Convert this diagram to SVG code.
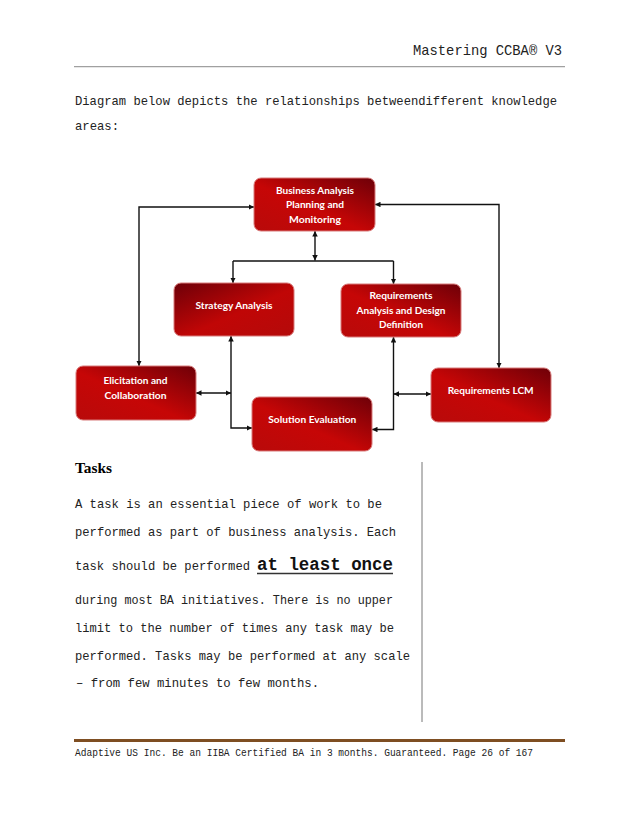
<svg xmlns="http://www.w3.org/2000/svg" width="638" height="826" viewBox="0 0 638 826">
<defs>
<linearGradient id="g1" x1="0" y1="1" x2="1" y2="0">
<stop offset="0" stop-color="#b80a0a"/>
<stop offset="0.45" stop-color="#c60606"/>
<stop offset="1" stop-color="#6e0008"/>
</linearGradient>
<linearGradient id="g2" x1="0" y1="0" x2="1" y2="1">
<stop offset="0" stop-color="#6e0008"/>
<stop offset="0.55" stop-color="#c00606"/>
<stop offset="1" stop-color="#b40a0a"/>
</linearGradient>
<marker id="ah" viewBox="0 0 6 6" markerWidth="5.5" markerHeight="5.5" refX="6" refY="3" orient="auto-start-reverse" markerUnits="userSpaceOnUse">
<path d="M0,0 L6,3 L0,6 z" fill="#111"/>
</marker>
</defs>
<style>
.doc{font-family:"Liberation Mono","Noto Sans CJK SC",monospace;fill:#222;}
.box{stroke:#d87a7a;stroke-width:1;}
.lbl{font-family:Lato,"Liberation Sans",sans-serif;font-weight:bold;font-size:10px;fill:#ffffff;text-anchor:middle;}
.con{fill:none;stroke:#111;stroke-width:1.4;}
.both{marker-start:url(#ah);marker-end:url(#ah);}
.end{marker-end:url(#ah);}
</style>
<rect width="638" height="826" fill="#ffffff"/>

<text class="doc" x="562" y="55" font-size="15" text-anchor="end" textLength="149" lengthAdjust="spacingAndGlyphs">Mastering CCBA® V3</text>
<line x1="74" y1="66.7" x2="565" y2="66.7" stroke="#a0a0a0" stroke-width="1.3"/>

<text class="doc" x="75" y="105" font-size="13.5" textLength="482" lengthAdjust="spacingAndGlyphs">Diagram below depicts the relationships betweendifferent knowledge</text>
<text class="doc" x="75" y="130" font-size="13.5" textLength="44" lengthAdjust="spacingAndGlyphs">areas:</text>

<g id="connectors">
<path class="con both" d="M254,207 H139 V366"/>
<path class="con both" d="M375,204.5 H499 V368"/>
<path class="con both" d="M315,231 V260.5"/>
<path class="con" d="M233,261 H393.5"/>
<path class="con end" d="M233,261 V283"/>
<path class="con end" d="M393.5,261 V284"/>
<path class="con both" d="M231,336 V428 H252"/>
<path class="con both" d="M196,393 H231"/>
<path class="con both" d="M393.5,337 V429.5 H372"/>
<path class="con both" d="M393.5,394 H431"/>
</g>

<g id="bapm">
<rect class="box" x="254" y="178" width="121" height="53" rx="7" fill="url(#g1)"/>
<text class="lbl" x="315" y="194" textLength="78" lengthAdjust="spacingAndGlyphs">Business Analysis</text>
<text class="lbl" x="315" y="208.3" textLength="58" lengthAdjust="spacingAndGlyphs">Planning and</text>
<text class="lbl" x="315" y="222.7" textLength="52" lengthAdjust="spacingAndGlyphs">Monitoring</text>
</g>
<g id="strategy">
<rect class="box" x="174" y="283" width="120" height="53" rx="7" fill="url(#g2)"/>
<text class="lbl" x="234" y="309.3" textLength="77" lengthAdjust="spacingAndGlyphs">Strategy Analysis</text>
</g>
<g id="radd">
<rect class="box" x="341" y="284" width="120" height="53" rx="7" fill="url(#g1)"/>
<text class="lbl" x="401" y="299.3" textLength="63" lengthAdjust="spacingAndGlyphs">Requirements</text>
<text class="lbl" x="401" y="313.7" textLength="89" lengthAdjust="spacingAndGlyphs">Analysis and Design</text>
<text class="lbl" x="401" y="328" textLength="44" lengthAdjust="spacingAndGlyphs">Definition</text>
</g>
<g id="elicitation">
<rect class="box" x="76" y="366" width="120" height="54" rx="7" fill="url(#g1)"/>
<text class="lbl" x="135.5" y="384.3" textLength="64" lengthAdjust="spacingAndGlyphs">Elicitation and</text>
<text class="lbl" x="135.5" y="399" textLength="62" lengthAdjust="spacingAndGlyphs">Collaboration</text>
</g>
<g id="solution">
<rect class="box" x="252" y="397" width="120" height="54" rx="7" fill="url(#g1)"/>
<text class="lbl" x="312.3" y="423.3" textLength="88" lengthAdjust="spacingAndGlyphs">Solution Evaluation</text>
</g>
<g id="reqlcm">
<rect class="box" x="431" y="368" width="120" height="54" rx="7" fill="url(#g1)"/>
<text class="lbl" x="490.7" y="394" textLength="86" lengthAdjust="spacingAndGlyphs">Requirements LCM</text>
</g>

<text x="75" y="473" font-family="'Liberation Serif',serif" font-weight="bold" font-size="14.5" fill="#000" textLength="37" lengthAdjust="spacingAndGlyphs">Tasks</text>
<text class="doc" x="75" y="508" font-size="13.5" textLength="307" lengthAdjust="spacingAndGlyphs">A task is an essential piece of work to be</text>
<text class="doc" x="75" y="536" font-size="13.5" textLength="321" lengthAdjust="spacingAndGlyphs">performed as part of business analysis. Each</text>
<text class="doc" x="75" y="570" font-size="13.5" textLength="175" lengthAdjust="spacingAndGlyphs">task should be performed</text>
<text x="257" y="570" font-family="'Liberation Mono',monospace" font-weight="bold" font-size="18" fill="#111" textLength="136" lengthAdjust="spacingAndGlyphs">at least once</text>
<line x1="257" y1="573.5" x2="393" y2="573.5" stroke="#333" stroke-width="1.5"/>
<text class="doc" x="75" y="604" font-size="13.5" textLength="318" lengthAdjust="spacingAndGlyphs">during most BA initiatives. There is no upper</text>
<text class="doc" x="75" y="632" font-size="13.5" textLength="319" lengthAdjust="spacingAndGlyphs">limit to the number of times any task may be</text>
<text class="doc" x="75" y="660" font-size="13.5" textLength="335" lengthAdjust="spacingAndGlyphs">performed. Tasks may be performed at any scale</text>
<text class="doc" x="76" y="687" font-size="13.5" textLength="243" lengthAdjust="spacingAndGlyphs">–  from few minutes to few months.</text>
<line x1="422" y1="462" x2="422" y2="722" stroke="#777" stroke-width="1"/>

<line x1="74" y1="740.5" x2="565" y2="740.5" stroke="#7e4e22" stroke-width="3"/>
<text class="doc" x="75" y="756" font-size="10" textLength="458" lengthAdjust="spacingAndGlyphs">Adaptive US Inc. Be an IIBA Certified BA in 3 months. Guaranteed. Page 26 of 167</text>
</svg>
